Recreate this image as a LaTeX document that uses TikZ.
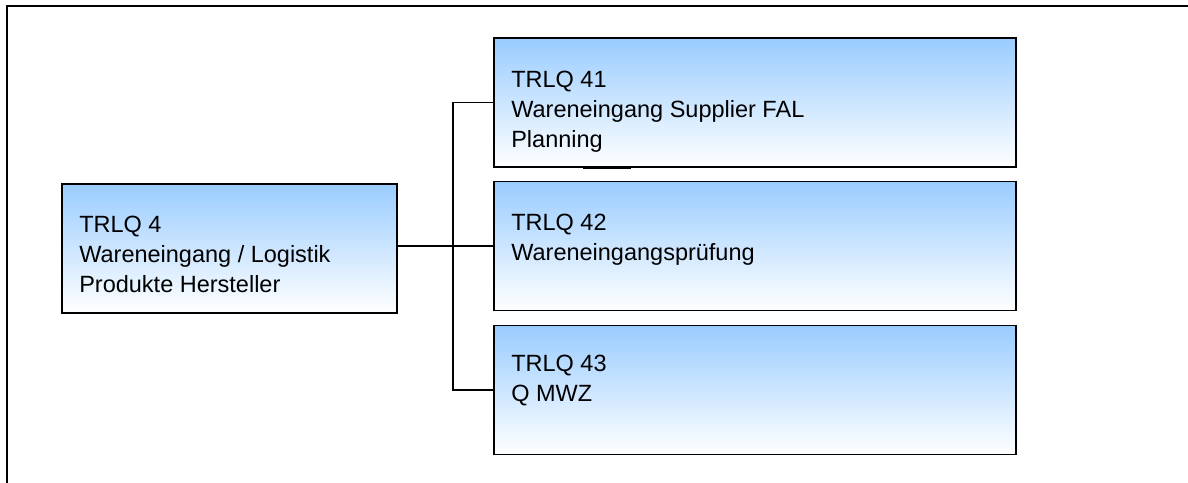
\documentclass[tikz,border=0pt]{standalone}
\usepackage{fontspec}
\setmainfont{Liberation Sans}
\definecolor{boxblue}{RGB}{153,204,255}
\begin{document}
\begin{tikzpicture}[x=1pt,y=-1pt,
  box/.style={draw=black, line width=1.8pt, top color=boxblue, bottom color=white, minimum width=#1, minimum height=129pt, inner sep=0pt},
  txt/.style={anchor=north west, inner sep=0pt, align=left, font=\fontsize{23.5}{30}\selectfont},
  conn/.style={draw=black, line width=1.4pt}]
\useasboundingbox (0,0) rectangle (1188,482);
\draw[line width=1.4pt] (7,490) -- (7,6) -- (1192,6);
\node[box=335pt] (b4) at (229.5,248.5) {};
\node[box=522pt] (b41) at (755,102.5) {};
\node[box=522pt] (b42) at (755,246) {};
\node[box=522pt] (b43) at (755,390) {};
\node[txt] (t4) at ([xshift=18pt,yshift=-33pt]b4.north west) {TRLQ 4\\Wareneingang / Logistik\\Produkte Hersteller};
\node[txt] (t41) at ([xshift=18pt,yshift=-34pt]b41.north west) {TRLQ 41\\Wareneingang Supplier FAL\\Planning};
\node[txt] (t42) at ([xshift=18pt,yshift=-33pt]b42.north west) {TRLQ 42\\Wareneingangsprüfung};
\node[txt] (t43) at ([xshift=18pt,yshift=-30pt]b43.north west) {TRLQ 43\\Q MWZ};
\coordinate (j) at (453,246);
\draw[conn] (j -| b4.east) -- (b42.west);
\draw[conn] (b41.west) -| (j) |- (b43.west);
\draw[line width=2.2pt] ([xshift=90pt]b41.south west) -- ([xshift=138pt]b41.south west);
\end{tikzpicture}
\end{document}
